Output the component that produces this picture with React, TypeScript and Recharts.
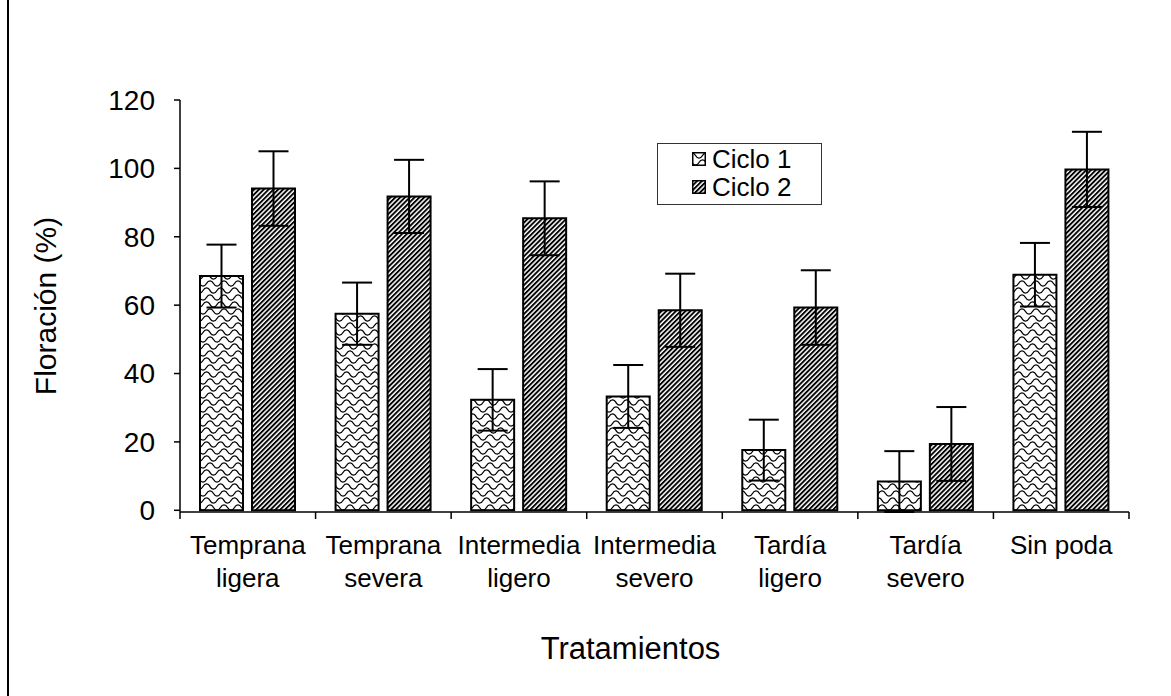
import React from 'react';
import { BarChart, Bar, XAxis, YAxis, ErrorBar, Legend } from 'recharts';

const categories = [
  'Temprana ligera',
  'Temprana severa',
  'Intermedia ligero',
  'Intermedia severo',
  'Tardía ligero',
  'Tardía severo',
  'Sin poda',
];
const tickLabels = [
  ['Temprana', 'ligera'],
  ['Temprana', 'severa'],
  ['Intermedia', 'ligero'],
  ['Intermedia', 'severo'],
  ['Tardía', 'ligero'],
  ['Tardía', 'severo'],
  ['Sin poda'],
];
const ciclo1 = [68.5, 57.5, 32.3, 33.3, 17.6, 8.4, 68.9];
const ciclo2 = [94.1, 91.8, 85.4, 58.5, 59.3, 19.4, 99.7];
const errCiclo1 = [9.2, 9.1, 9.0, 9.2, 8.9, 8.9, 9.3];
const errCiclo2 = [10.9, 10.7, 10.8, 10.7, 10.9, 10.8, 11.0];
const yTicks = [0, 20, 40, 60, 80, 100, 120];

const data = categories.map((name, i) => ({
  name,
  c1: ciclo1[i],
  c2: ciclo2[i],
  e1: errCiclo1[i],
  e2: errCiclo2[i],
}));

const W = 1171;
const H = 696;
const margin = { top: 100, right: 42, bottom: 34, left: 8 };
const Y_AXIS_W = 172;
const X_AXIS_H = 150;
const PLOT_W = W - margin.left - margin.right - Y_AXIS_W;
const FONT = 'Liberation Sans, Arial, sans-serif';

function Patterns({ prefix }: { prefix: string }) {
  return (
    <defs>
      <pattern id={`${prefix}-wave`} patternUnits="userSpaceOnUse" width={14} height={14}>
        <rect width={14} height={14} fill="#fff" />
        <path d="M-3.5 3.5 C-1.5 0, 1.5 0, 3.5 3.5 S8.5 7, 10.5 3.5 S15.5 0, 17.5 3.5" stroke="#000" strokeWidth={1.3} fill="none" />
        <path d="M-7 10.5 C-5 7, -2 7, 0 10.5 S5 14, 7 10.5 S12 7, 14 10.5 S19 14, 21 10.5" stroke="#000" strokeWidth={1.3} fill="none" />
      </pattern>
      <pattern
        id={`${prefix}-hatch`}
        patternUnits="userSpaceOnUse"
        width={3.4}
        height={3.4}
        patternTransform="rotate(45)"
      >
        <rect width={3.4} height={3.4} fill="#fff" />
        <rect width={1.9} height={3.4} fill="#000" />
      </pattern>
    </defs>
  );
}

function CategoryTick(props: any) {
  const { x, y, index } = props;
  const bw = PLOT_W / categories.length;
  const lines = tickLabels[index] || [];
  const left = x - bw / 2;
  const right = x + bw / 2;
  return (
    <g>
      <line x1={left} y1={y} x2={left} y2={y + 7} stroke="#000" strokeWidth={1.5} />
      {index === categories.length - 1 && (
        <line x1={right} y1={y} x2={right} y2={y + 7} stroke="#000" strokeWidth={1.5} />
      )}
      {lines.map((t: string, i: number) => (
        <text
          key={i}
          x={x}
          y={y + 33 + i * 33}
          textAnchor="middle"
          dominantBaseline="central"
          fontSize={26}
          fontFamily={FONT}
          fill="#000"
        >
          {t}
        </text>
      ))}
    </g>
  );
}

function LegendBox() {
  const items = [
    { label: 'Ciclo 1', id: 'lg-wave' },
    { label: 'Ciclo 2', id: 'lg-hatch' },
  ];
  return (
    <div
      style={{
        border: '1.5px solid #333',
        width: 165,
        height: 62,
        boxSizing: 'border-box',
        background: '#fff',
        fontFamily: FONT,
        fontSize: 26,
        color: '#000',
        paddingLeft: 34,
        paddingTop: 1,
      }}
    >
      <svg width={0} height={0} style={{ position: 'absolute' }}>
        <Patterns prefix="lg" />
      </svg>
      {items.map((it) => (
        <div key={it.label} style={{ display: 'flex', alignItems: 'center', height: 28, lineHeight: '28px' }}>
          <svg width={14} height={14} style={{ marginRight: 6 }}>
            <rect x={0.75} y={0.75} width={12.5} height={12.5} fill={`url(#${it.id})`} stroke="#000" strokeWidth={1.5} />
          </svg>
          <span>{it.label}</span>
        </div>
      ))}
    </div>
  );
}

export default function App() {
  return (
    <div style={{ position: 'absolute', left: 0, top: 0, width: W, height: H, background: '#fff' }}>
      <div style={{ position: 'absolute', left: 7, top: 0, width: 2, height: H, background: '#000' }} />
      <BarChart width={W} height={H} data={data} margin={margin} barSize={43} barGap={9}>
        <Patterns prefix="ch" />
        <XAxis
          dataKey="name"
          height={X_AXIS_H}
          interval={0}
          tickLine={false}
          tickSize={0}
          tickMargin={0}
          axisLine={{ stroke: '#000', strokeWidth: 1.5 }}
          tick={<CategoryTick />}
          label={{
            content: ({ viewBox }: any) => (
              <text
                x={viewBox.x + viewBox.width / 2 - 24}
                y={viewBox.y + 136}
                textAnchor="middle"
                dominantBaseline="central"
                fontSize={31}
                fontFamily={FONT}
                fill="#000"
              >
                Tratamientos
              </text>
            ),
          }}
        />
        <YAxis
          width={Y_AXIS_W}
          domain={[0, 120]}
          ticks={yTicks}
          interval={0}
          tickSize={6}
          tickMargin={19}
          tickLine={{ stroke: '#000', strokeWidth: 1.5 }}
          axisLine={{ stroke: '#000', strokeWidth: 1.5 }}
          tick={{ fontSize: 28, fontFamily: FONT, fill: '#000' }}
          label={{
            content: ({ viewBox }: any) => (
              <text
                x={45}
                y={viewBox.y + viewBox.height / 2}
                textAnchor="middle"
                dominantBaseline="central"
                fontSize={30}
                fontFamily={FONT}
                fill="#000"
                transform={`rotate(-90 45 ${viewBox.y + viewBox.height / 2})`}
              >
                Floración (%)
              </text>
            ),
          }}
        />
        <Legend
          verticalAlign="middle"
          align="center"
          layout="horizontal"
          wrapperStyle={{ position: 'absolute', left: 657, top: 143, width: 165 }}
          content={() => <LegendBox />}
        />
        <Bar dataKey="c1" name="Ciclo 1" fill="url(#ch-wave)" stroke="#000" strokeWidth={2} isAnimationActive={false}>
          <ErrorBar dataKey="e1" width={15} stroke="#000" strokeWidth={2} direction="y" />
        </Bar>
        <Bar dataKey="c2" name="Ciclo 2" fill="url(#ch-hatch)" stroke="#000" strokeWidth={2} isAnimationActive={false}>
          <ErrorBar dataKey="e2" width={15} stroke="#000" strokeWidth={2} direction="y" />
        </Bar>
      </BarChart>
    </div>
  );
}
